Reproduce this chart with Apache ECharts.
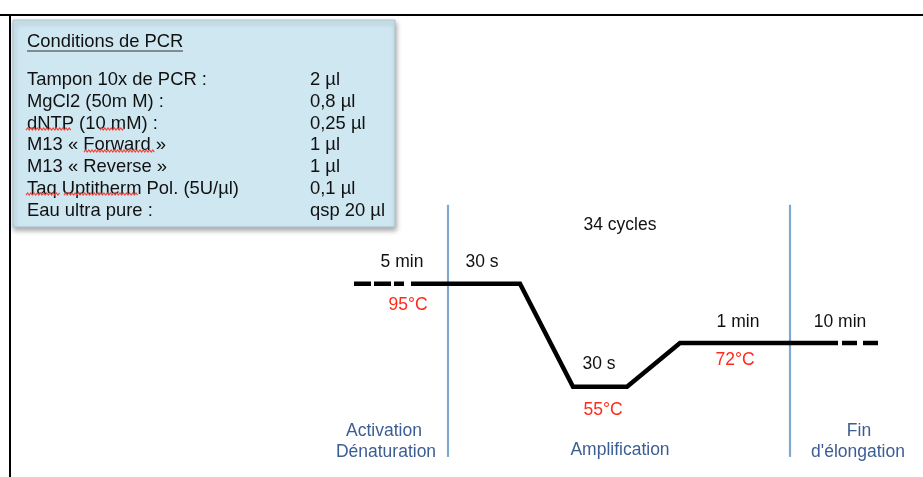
<!DOCTYPE html>
<html><head><meta charset="utf-8">
<script src="https://cdn.jsdelivr.net/npm/echarts@6/dist/echarts.min.js"></script>
<style>html,body{margin:0;padding:0;background:#fff}#c{width:923px;height:477px}</style>
</head><body><div id="c"></div>
<script>
// ---- data ----
const boxTitle = 'Conditions de PCR';
const reagents = ['Tampon 10x de PCR :', 'MgCl2 (50m M) :', 'dNTP (10 mM) :', 'M13 « Forward »', 'M13 « Reverse »', 'Taq Uptitherm Pol. (5U/µl)', 'Eau ultra pure :'];
const volumes = ['2 µl', '0,8 µl', '0,25 µl', '1 µl', '1 µl', '0,1 µl', 'qsp 20 µl'];
// thermal profile: schematic position (arbitrary units) vs temperature (°C)
const profileX = [41.2, 52.0, 57.3, 62.7, 68.0, 83.8];
const profileT = [95, 95, 55, 55, 72, 72];
const startDashX = [35.4, 41.2];
const startDashT = [95, 95];
const endDashX = [84.2, 87.8];
const endDashT = [72, 72];
const phaseBoundaryX = [44.8, 79.0];
const phaseBoundaryT = [125.7, 27.8];

const FONT = '"Liberation Sans", Arial, Helvetica, sans-serif';
const chart = echarts.init(document.getElementById('c'), null, {renderer: 'canvas'});

function zip(xs, ys) { return xs.map((x, i) => [x, ys[i]]); }

const series = [
  {type: 'line', data: zip(startDashX, startDashT), symbol: 'none', silent: true,
   lineStyle: {color: '#000', width: 4.5, type: [17, 3, 17, 3, 10, 7], cap: 'butt'}},
  {type: 'line', data: zip(profileX, profileT), symbol: 'none', silent: true,
   lineStyle: {color: '#000', width: 4.5, join: 'miter', cap: 'butt'}},
  {type: 'line', data: zip(endDashX, endDashT), symbol: 'none', silent: true,
   lineStyle: {color: '#000', width: 4.5, type: [15, 6, 15, 10], cap: 'butt'}}
];
phaseBoundaryX.forEach(x => series.push({
  type: 'line', data: phaseBoundaryT.map(t => [x, t]), symbol: 'none', silent: true, z: 1,
  lineStyle: {color: '#7fa9cf', width: 2.2}
}));

function txt(text, x, y, fill, extra) {
  return Object.assign({type: 'text', silent: true, z: 10, style: Object.assign({
    text, x, y, fill, font: '17.5px ' + FONT, fontSize: 17.5, fontFamily: FONT,
    textAlign: 'center', textVerticalAlign: 'middle', align: 'center', verticalAlign: 'middle'
  }, extra || {})});
}
const boxStyle = {textAlign: 'left', align: 'left', font: '18.4px ' + FONT, fontSize: 18.4};
function wavy(x1, x2, y) {
  const pts = [];
  for (let x = x1, k = 0; x <= x2; x += 1.6, k++) pts.push([x, y + (k % 2 ? -1.1 : 1.1)]);
  return {type: 'polyline', silent: true, z: 12, shape: {points: pts}, style: {stroke: '#f0453c', lineWidth: 1.2, fill: null}};
}

const RED = '#ff2a1c', BLUE = '#3c5d94', BLK = '#111';
const graphic = [
  {type: 'line', silent: true, shape: {x1: 0, y1: 15, x2: 923, y2: 15}, style: {stroke: '#000', lineWidth: 2}},
  {type: 'line', silent: true, shape: {x1: 10, y1: 14, x2: 10, y2: 477}, style: {stroke: '#000', lineWidth: 2}},
  {type: 'rect', silent: true, z: 5, shape: {x: 13, y: 20, width: 382, height: 207},
   style: {fill: '#cfe7f1', stroke: '#a8c2d0', lineWidth: 1, shadowBlur: 5, shadowOffsetY: 3, shadowOffsetX: 1, shadowColor: 'rgba(0,0,0,0.35)'}},
  txt(boxTitle, 27, 42, BLK, boxStyle),
  {type: 'line', silent: true, z: 11, shape: {x1: 27, y1: 51, x2: 183, y2: 51}, style: {stroke: '#333', lineWidth: 1}},
  wavy(26, 72, 129), wavy(100, 125, 129), wavy(84, 155, 151), wavy(26, 60, 194), wavy(64, 138, 194),
  txt('5 min', 402, 262, BLK), txt('30 s', 482, 262, BLK), txt('34 cycles', 620, 225, BLK),
  txt('95°C', 408, 305, RED), txt('30 s', 599, 364, BLK), txt('55°C', 603, 410, RED),
  txt('1 min', 738, 322, BLK), txt('72°C', 735, 360, RED), txt('10 min', 840, 322, BLK),
  txt('Activation', 384, 431, BLUE), txt('Dénaturation', 386, 452, BLUE),
  txt('Amplification', 620, 450, BLUE),
  txt('Fin', 859, 431, BLUE), txt("d'élongation", 858, 452, BLUE)
];
const rowY0 = 80, rowDy = 21.75;
reagents.forEach((r, i) => graphic.push(txt(r, 27, rowY0 + i * rowDy, BLK, boxStyle)));
volumes.forEach((v, i) => graphic.push(txt(v, 310, rowY0 + i * rowDy, BLK, boxStyle)));

chart.setOption({
  animation: false,
  backgroundColor: '#fff',
  grid: {left: 0, right: 0, top: 0, bottom: 0},
  xAxis: {type: 'value', min: 0, max: 92.3, show: false},
  yAxis: {type: 'value', min: 20, max: 205.2, show: false},
  series,
  graphic
});
</script></body></html>
